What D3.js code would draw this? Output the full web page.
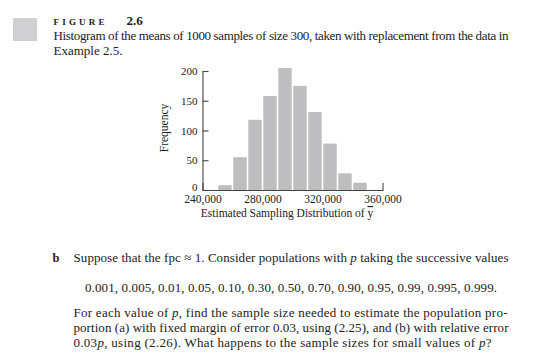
<!DOCTYPE html>
<html>
<head>
<meta charset="utf-8">
<script src="https://cdn.jsdelivr.net/npm/d3@7"></script>
<style>
  body { margin: 0; background: white; }
  svg text { font-family: "Liberation Serif", "DejaVu Serif", serif; fill: #222; }
</style>
</head>
<body>
<div id="chart"></div>
<script>
//histogram data (bins of 10,000)
var binStarts = [240000, 250000, 260000, 270000, 280000, 290000, 300000, 310000, 320000, 330000, 340000, 350000];
var binCounts = [0, 8, 55, 118, 158, 205, 175, 131, 78, 28, 12, 0];
var binWidth = 10000;
var xTicks = [240000, 280000, 320000, 360000];
var yTicks = [0, 50, 100, 150, 200];
var pValues = ["0.001", "0.005", "0.01", "0.05", "0.10", "0.30", "0.50", "0.70", "0.90", "0.95", "0.99", "0.995", "0.999"];

var width = 560,
    height = 361;

var svg = d3.select("#chart")
    .append("svg")
    .attr("width", width)
    .attr("height", height);

// ---- caption at the top ----
svg.append("rect")
    .attr("x", 13).attr("y", 18)
    .attr("width", 24).attr("height", 23)
    .attr("fill", "#d0d0d2");

svg.append("text")
    .attr("x", 53.5).attr("y", 25)
    .style("font-size", "9px")
    .style("font-weight", "bold")
    .style("letter-spacing", "3.2px")
    .text("FIGURE");

svg.append("text")
    .attr("x", 126.5).attr("y", 25)
    .style("font-size", "13px")
    .style("font-weight", "bold")
    .text("2.6");

svg.append("text")
    .attr("x", 53.5).attr("y", 39.5)
    .attr("textLength", 455)
    .attr("lengthAdjust", "spacing")
    .style("font-size", "13px")
    .text("Histogram of the means of 1000 samples of size 300, taken with replacement from the data in");

svg.append("text")
    .attr("x", 53.5).attr("y", 55)
    .style("font-size", "13px")
    .text("Example 2.5.");

// ---- the histogram ----
var x = d3.scaleLinear().domain([240000, 360000]).range([202.5, 382.5]);
var y = d3.scaleLinear().domain([0, 200]).range([190, 71]);

var bins = binStarts.map((d, i) => ({ x0: d, x1: d + binWidth, count: binCounts[i] }));

svg.selectAll(".bar")
    .data(bins.filter(d => d.count > 0))
    .enter().append("rect")
    .attr("class", "bar")
    .attr("x", d => x(d.x0) + 0.8)
    .attr("width", d => x(d.x1) - x(d.x0) - 1.6)
    .attr("y", d => y(d.count))
    .attr("height", d => y(0) - y(d.count))
    .attr("fill", "#bebec1");

// x axis: bottom line with a small upturned end tick, no inner ticks
var xAxis = d3.axisBottom(x)
    .tickValues(xTicks)
    .tickFormat(d3.format(","))
    .tickSizeInner(0)
    .tickSizeOuter(-7)
    .tickPadding(5);

var gx = svg.append("g")
    .attr("transform", `translate(0,${y(0)})`)
    .call(xAxis);
gx.select(".domain").attr("stroke", "#444").attr("stroke-width", 1.1);
gx.selectAll("text")
    .style("font-family", "Liberation Serif, serif")
    .style("font-size", "11.5px")
    .attr("fill", "#222");

// y axis: ticks pointing inward
var yAxis = d3.axisLeft(y)
    .tickValues(yTicks)
    .tickSizeInner(-6)
    .tickSizeOuter(0)
    .tickPadding(5);

var gy = svg.append("g")
    .attr("transform", `translate(${x(240000)},0)`)
    .call(yAxis);
gy.select(".domain").attr("stroke", "#444").attr("stroke-width", 1.1);
gy.selectAll(".tick line").attr("stroke", "#444").attr("stroke-width", 1.1);
gy.selectAll("text")
    .style("font-family", "Liberation Serif, serif")
    .style("font-size", "11px")
    .attr("fill", "#222");
// lift the "0" a little so it clears the 240,000 label
gy.selectAll(".tick").filter(d => d === 0).select("text").attr("y", -3);

svg.append("text")
    .attr("transform", "translate(168,128) rotate(-90)")
    .attr("text-anchor", "middle")
    .style("font-size", "11.5px")
    .text("Frequency");

var xTitle = svg.append("text")
    .attr("x", 287).attr("y", 217)
    .attr("text-anchor", "middle")
    .style("font-size", "11.5px");
xTitle.append("tspan").text("Estimated Sampling Distribution of ");
xTitle.append("tspan").style("text-decoration", "overline").text("y");

// ---- exercise text underneath ----
var bodySize = "13px";

svg.append("text")
    .attr("x", 52.5).attr("y", 262)
    .style("font-size", "12.5px")
    .style("font-weight", "bold")
    .text("b");

var line1 = svg.append("text")
    .attr("x", 73.5).attr("y", 262)
    .attr("textLength", 435)
    .attr("lengthAdjust", "spacing")
    .style("font-size", bodySize);
line1.append("tspan").text("Suppose that the fpc \u2248 1. Consider populations with ");
line1.append("tspan").style("font-style", "italic").text("p");
line1.append("tspan").text(" taking the successive values");

svg.append("text")
    .attr("x", 85).attr("y", 292)
    .attr("textLength", 412)
    .attr("lengthAdjust", "spacing")
    .style("font-size", bodySize)
    .text(pValues.join(", ") + ".");

var line3 = svg.append("text")
    .attr("x", 73.5).attr("y", 317)
    .attr("textLength", 434)
    .attr("lengthAdjust", "spacing")
    .style("font-size", bodySize);
line3.append("tspan").text("For each value of ");
line3.append("tspan").style("font-style", "italic").text("p");
line3.append("tspan").text(", find the sample size needed to estimate the population pro-");

svg.append("text")
    .attr("x", 73.5).attr("y", 332)
    .attr("textLength", 435)
    .attr("lengthAdjust", "spacing")
    .style("font-size", bodySize)
    .text("portion (a) with fixed margin of error 0.03, using (2.25), and (b) with relative error");

var line5 = svg.append("text")
    .attr("x", 73.5).attr("y", 347)
    .attr("textLength", 418)
    .attr("lengthAdjust", "spacing")
    .style("font-size", bodySize);
line5.append("tspan").text("0.03");
line5.append("tspan").style("font-style", "italic").text("p");
line5.append("tspan").text(", using (2.26). What happens to the sample sizes for small values of ");
line5.append("tspan").style("font-style", "italic").text("p");
line5.append("tspan").text("?");
</script>
</body>
</html>
